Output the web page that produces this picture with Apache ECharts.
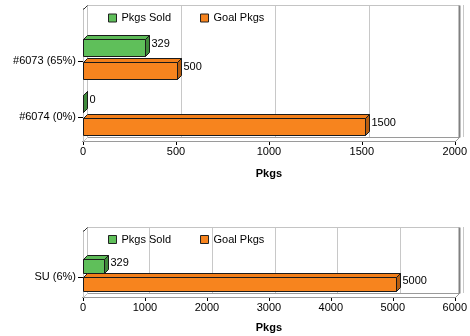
<!DOCTYPE html>
<html>
<head>
<meta charset="utf-8">
<script src="https://cdn.jsdelivr.net/npm/echarts@6/dist/echarts.min.js"></script>
<style>
  html, body { margin: 0; padding: 0; background: #ffffff; }
  #chart { width: 470px; height: 336px; }
</style>
</head>
<body>
<div id="chart"></div>
<script>
// Package sales per store vs. goal
const storeCategories = ['#6073 (65%)', '#6074 (0%)'];
const storeSold = [329, 0];
const storeGoal = [500, 1500];
const storeTicks = [0, 500, 1000, 1500, 2000];

// Unit summary
const unitCategories = ['SU (6%)'];
const unitSold = [329];
const unitGoal = [5000];
const unitTicks = [0, 1000, 2000, 3000, 4000, 5000, 6000];

const seriesNames = ['Pkgs Sold', 'Goal Pkgs'];
const axisTitle = 'Pkgs';

const FONT = '"Liberation Sans", Arial, sans-serif';
const DEPTH = 4;
const COLORS = {
  sold: { face: '#5fbf5a', top: '#5cba57', side: '#3f8a3b' },
  goal: { face: '#f7841e', top: '#f27f1a', side: '#b85e10' }
};
const OUTLINE = '#1a1a1a';

// Panel geometry (front plot rectangles, category band area, bar sizes)
const panels = [
  {
    cats: storeCategories, sold: storeSold, goal: storeGoal, ticks: storeTicks,
    front: { left: 83, top: 9, width: 376, height: 132 },
    band: { top: 33, height: 112 },
    barH: 17, soldBottom: -5, goalTop: 1,
    legendTop: 12.5, nameGap: 27
  },
  {
    cats: unitCategories, sold: unitSold, goal: unitGoal, ticks: unitTicks,
    front: { left: 83, top: 231, width: 376, height: 66 },
    band: { top: 257, height: 40 },
    barH: 14, soldBottom: -4.5, goalTop: 0,
    legendTop: 234, nameGap: 25
  }
];

const grid = [], xAxis = [], yAxis = [], series = [], legend = [];

function wallRender(params, api) {
  const r = params.coordSys;
  const d = DEPTH;
  const x = Math.round(r.x) + 0.5, y = Math.round(r.y) + 0.5;
  const w = Math.round(r.width), h = Math.round(r.height);
  const light = '#c4c4c4', mid = '#9a9a9a';
  return {
    type: 'group',
    children: [
      // floor strip
      { type: 'polygon', shape: { points: [[x, y + h], [x + w, y + h], [x + w + d, y + h - d], [x + d, y + h - d]] },
        style: { fill: '#ffffff', stroke: mid, lineWidth: 1 } },
      // left wall
      { type: 'polygon', shape: { points: [[x, y], [x + d, y - d], [x + d, y + h - d], [x, y + h]] },
        style: { fill: '#ffffff', stroke: light, lineWidth: 1 } },
      // back wall top edge
      { type: 'line', shape: { x1: x + d, y1: y - d, x2: x + w + d, y2: y - d },
        style: { stroke: light, lineWidth: 1 } },
      // back wall right edge
      { type: 'line', shape: { x1: x + w + d, y1: y - d, x2: x + w + d, y2: y + h - d },
        style: { stroke: '#808080', lineWidth: 2 } },
      // front left edge
      { type: 'line', shape: { x1: x, y1: y, x2: x + d, y2: y - d },
        style: { stroke: '#333', lineWidth: 1 } }
    ]
  };
}

function barRenderer(p, which) {
  const col = COLORS[which];
  return function (params, api) {
    const v = api.value(0);
    const ci = api.value(1);
    const base = api.coord([0, ci]);
    const end = api.coord([v, ci]);
    const d = DEPTH;
    const c = base[1];
    let yt, yb;
    if (which === 'sold') { yb = c + p.soldBottom; yt = yb - p.barH; }
    else { yt = c + p.goalTop; yb = yt + p.barH; }
    yt = Math.round(yt) + 0.5; yb = Math.round(yb) + 0.5;
    const x0 = Math.round(base[0]) + 0.5;
    const x1 = Math.round(end[0]) + 0.5;
    const st = { stroke: OUTLINE, lineWidth: 1, lineJoin: 'miter' };
    return {
      type: 'group',
      children: [
        { type: 'rect', shape: { x: x0, y: yt, width: x1 - x0, height: yb - yt },
          style: Object.assign({ fill: col.face }, st) },
        { type: 'polygon', shape: { points: [[x0, yt], [x1, yt], [x1 + d, yt - d], [x0 + d, yt - d]] },
          style: Object.assign({ fill: col.top }, st) },
        { type: 'polygon', shape: { points: [[x1, yt], [x1 + d, yt - d], [x1 + d, yb - d], [x1, yb]] },
          style: Object.assign({ fill: col.side }, st) },
        { type: 'text',
          style: { text: String(v), x: x1 + d + 2, y: (yt + yb) / 2 - d,
                   verticalAlign: 'middle', align: 'left', fill: '#000', font: '11px ' + FONT } }
      ]
    };
  };
}

panels.forEach(function (p, i) {
  const f = p.front;
  const max = p.ticks[p.ticks.length - 1];
  const step = p.ticks[1] - p.ticks[0];
  const gWall = grid.length, gFront = gWall + 1, gBand = gWall + 2;

  // back wall (shifted by the 3D depth) carrying the grid lines
  grid.push({ left: f.left + DEPTH, top: f.top - DEPTH, width: f.width, height: f.height });
  // front plot rectangle carrying the value axis
  grid.push({ left: f.left, top: f.top, width: f.width, height: f.height });
  // category band area
  grid.push({ left: f.left, top: p.band.top, width: f.width, height: p.band.height });

  xAxis.push({
    gridIndex: gWall, type: 'value', min: 0, max: max, interval: step,
    axisLine: { show: false }, axisTick: { show: false }, axisLabel: { show: false },
    splitLine: { show: true, lineStyle: { color: '#c8c8c8', width: 1 } }
  });
  xAxis.push({
    gridIndex: gFront, type: 'value', min: 0, max: max, interval: step,
    axisLine: { show: true, lineStyle: { color: '#000', width: 1 } },
    axisTick: { show: true, length: 4, lineStyle: { color: '#000' } },
    axisLabel: { show: true, color: '#000', fontSize: 11, fontFamily: FONT, margin: 5,
                 formatter: function (val) { return p.ticks.indexOf(val) >= 0 ? String(val) : ''; } },
    splitLine: { show: false },
    name: axisTitle, nameLocation: 'middle', nameGap: p.nameGap,
    nameTextStyle: { color: '#000', fontSize: 11, fontWeight: 'bold', fontFamily: FONT }
  });
  xAxis.push({
    gridIndex: gBand, type: 'value', min: 0, max: max, interval: step, show: false
  });

  yAxis.push({ gridIndex: gWall, type: 'value', min: 0, max: 1, show: false });
  yAxis.push({
    gridIndex: gFront, type: 'value', min: 0, max: 1,
    axisLine: { show: true, lineStyle: { color: '#000', width: 1 } },
    axisTick: { show: false }, axisLabel: { show: false }, splitLine: { show: false }
  });
  yAxis.push({
    gridIndex: gBand, type: 'category', data: p.cats, inverse: true,
    axisLine: { show: false },
    axisTick: { show: true, alignWithLabel: true, length: 5, lineStyle: { color: '#000' } },
    axisLabel: { color: '#000', fontSize: 11, fontFamily: FONT, margin: 7 },
    splitLine: { show: false }
  });

  series.push({
    type: 'custom', name: 'wall' + i, coordinateSystem: 'cartesian2d',
    xAxisIndex: gFront, yAxisIndex: gFront, silent: true, clip: false, z: 1,
    data: [[0, 0]], renderItem: wallRender
  });
  series.push({
    type: 'custom', name: seriesNames[0], coordinateSystem: 'cartesian2d',
    xAxisIndex: gBand, yAxisIndex: gBand, clip: false, z: 3,
    itemStyle: { color: COLORS.sold.face },
    data: p.sold.map(function (v, k) { return [v, k]; }),
    renderItem: barRenderer(p, 'sold')
  });
  series.push({
    type: 'custom', name: seriesNames[1], coordinateSystem: 'cartesian2d',
    xAxisIndex: gBand, yAxisIndex: gBand, clip: false, z: 3,
    itemStyle: { color: COLORS.goal.face },
    data: p.goal.map(function (v, k) { return [v, k]; }),
    renderItem: barRenderer(p, 'goal')
  });

  legend.push({
    data: seriesNames, left: 108, top: p.legendTop, orient: 'horizontal',
    icon: 'rect', itemWidth: 8, itemHeight: 8, itemGap: 29, padding: 0,
    itemStyle: { borderColor: '#222', borderWidth: 1 },
    textStyle: { color: '#000', fontSize: 11, fontFamily: FONT },
    selectedMode: false
  });
});

const chart = echarts.init(document.getElementById('chart'), null, { renderer: 'canvas' });
chart.setOption({
  animation: false,
  backgroundColor: '#ffffff',
  textStyle: { fontFamily: FONT },
  grid: grid, xAxis: xAxis, yAxis: yAxis, series: series, legend: legend
});
</script>
</body>
</html>
